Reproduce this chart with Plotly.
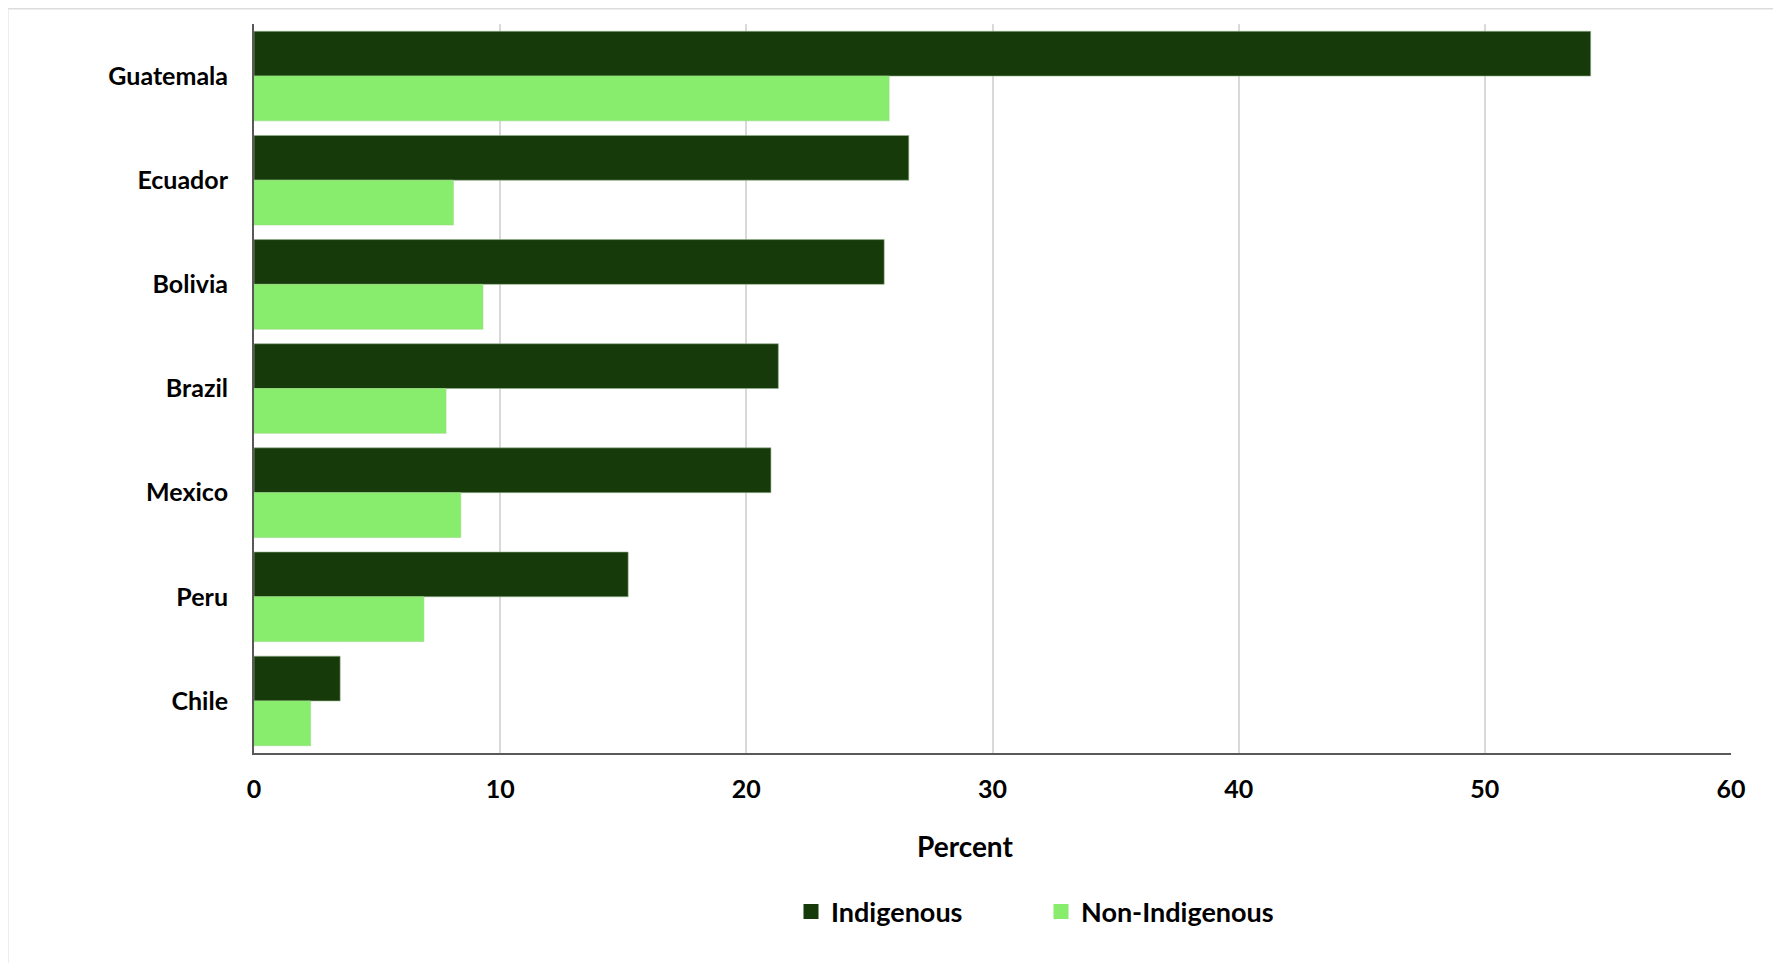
import plotly.graph_objects as go

countries = ["Guatemala", "Ecuador", "Bolivia", "Brazil", "Mexico", "Peru", "Chile"]
indigenous = [54.3, 26.6, 25.6, 21.3, 21.0, 15.2, 3.5]
non_indigenous = [25.8, 8.1, 9.3, 7.8, 8.4, 6.9, 2.3]
x_ticks = [0, 10, 20, 30, 40, 50, 60]

DARK = "#163A0A"
LIGHT = "#88EC6C"

# page body has an 8px margin; work in target-image pixel coords and shift
OFF = 8
W, H = 1781 - OFF, 963 - OFF
ML, MT = 254 - OFF, 24 - OFF
MR = W - (1731 - OFF)
MB = H - (753 - OFF)
PW = W - ML - MR
PH = H - MT - MB

def px_x(p):
    return (p - OFF - ML) / PW

def px_y(p):
    return (H - MB - (p - OFF)) / PH

FONT = "Lato"

fig = go.Figure()
fig.add_trace(go.Bar(
    y=countries, x=indigenous, orientation="h", name="Indigenous", showlegend=False,
    marker=dict(color=DARK, line=dict(color="rgba(150,180,140,0.6)", width=1)),
))
fig.add_trace(go.Bar(
    y=countries, x=non_indigenous, orientation="h", name="Non-Indigenous", showlegend=False,
    marker=dict(color=LIGHT, line=dict(color="rgba(150,220,130,0.6)", width=1)),
))
# legend entries with larger square swatches
for name, col in [("Indigenous", DARK), ("Non-Indigenous", LIGHT)]:
    fig.add_trace(go.Scatter(
        x=[None], y=[None], mode="markers", name=name,
        marker=dict(symbol="square", size=15, color=col),
        showlegend=True,
    ))

fig.update_layout(
    width=W, height=H,
    margin=dict(l=ML, r=MR, t=MT, b=MB, pad=0),
    paper_bgcolor="#EEF4EE",
    plot_bgcolor="white",
    barmode="group",
    bargap=0.14,
    bargroupgap=0,
    font=dict(family=FONT, color="black"),
    xaxis=dict(
        range=[0, 60], tickvals=x_ticks, ticktext=[str(v) for v in x_ticks],
        showgrid=True, gridcolor="#D9D9D9", gridwidth=1.5,
        showline=True, linecolor="#595959", linewidth=2,
        zeroline=False, ticks="", ticklabelstandoff=13,
        tickfont=dict(family=FONT, size=25, color="black", weight="bold"),
        fixedrange=True,
    ),
    yaxis=dict(
        autorange="reversed",
        showgrid=False, showline=True, linecolor="#595959", linewidth=2,
        ticks="", ticklabelstandoff=19,
        tickfont=dict(family=FONT, size=25, color="black", weight="bold"),
        fixedrange=True,
    ),
    showlegend=True,
    legend=dict(
        orientation="h", x=px_x(791), xanchor="left", y=px_y(912), yanchor="middle",
        font=dict(family=FONT, size=27, color="black", weight="bold"),
        bgcolor="rgba(0,0,0,0)", traceorder="normal",
        entrywidth=205, entrywidthmode="pixels",
    ),
    shapes=[dict(
        type="rect", xref="paper", yref="paper", layer="below",
        x0=px_x(7.5), x1=px_x(1800), y0=px_y(1000), y1=px_y(8.5),
        fillcolor="white", line=dict(color="#DCDCDC", width=2),
    )],
    annotations=[dict(
        text="<b>Percent</b>", xref="paper", yref="paper",
        x=px_x(965), y=px_y(846), xanchor="center", yanchor="middle",
        showarrow=False, font=dict(family=FONT, size=28, color="black"),
    )],
)

fig.write_html("out.html")
